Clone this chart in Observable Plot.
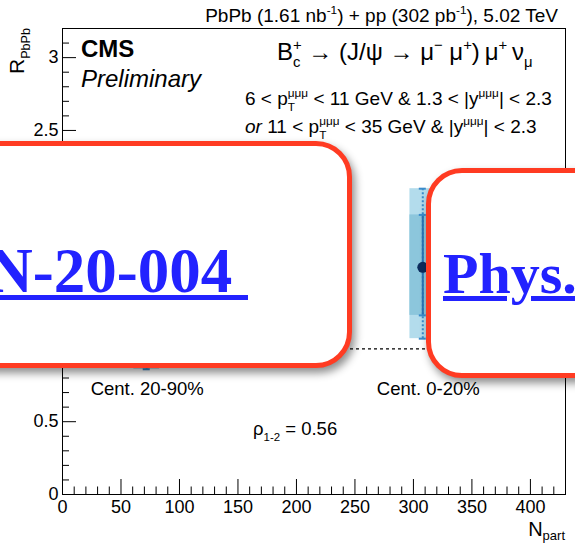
<!DOCTYPE html>
<html>
<head>
<meta charset="utf-8">
<script src="https://cdn.jsdelivr.net/npm/d3@7"></script>
<script src="https://cdn.jsdelivr.net/npm/@observablehq/plot@0.6"></script>
<style>
  html, body { margin: 0; padding: 0; background: #fff; }
  #wrap { position: relative; width: 575px; height: 543px; overflow: hidden; font-family: "Liberation Sans", Arial, sans-serif; }
  #wrap svg { position: absolute; left: 0; top: 0; }
  .callout { position: absolute; box-sizing: border-box; border: 5px solid #ff3b22; border-radius: 36px; background: #fff; box-shadow: 3px 5px 9px rgba(0,0,0,0.45); }
  .callout span { position: absolute; white-space: pre; font-family: "Liberation Serif", "Times New Roman", serif; font-weight: bold; color: #2222ff; text-decoration: underline; text-decoration-thickness: 5px; text-underline-offset: 3px; }
</style>
</head>
<body>
<div id="wrap"></div>
<script>
// Nuclear modification factor of B_c+ in two centrality classes
const centralities = ["Cent. 20-90%", "Cent. 0-20%"];
const nPart = [72, 308];
const rPbPb = [1.40, 1.56];
const innerLow = [1.10, 1.23];
const innerHigh = [1.70, 1.92];
const outerLow = [0.86, 1.07];
const outerHigh = [1.94, 2.10];

const xTicks = [0, 50, 100, 150, 200, 250, 300, 350, 400];
const yTicks = [0, 0.5, 1, 1.5, 2, 2.5, 3];
const correlation = "0.56";
const references = ["CMS-HIN-20-004 ", "Phys. Rev. Lett. 128 (2022) 252301"];

const points = centralities.map((c, i) => ({
  cent: c, npart: nPart[i], r: rPbPb[i],
  inLo: innerLow[i], inHi: innerHigh[i], outLo: outerLow[i], outHi: outerHigh[i]
}));
const caps = points.flatMap(d => [d.outLo, d.outHi, d.inLo, d.inHi].map(v => ({ npart: d.npart, v })));

const W = 575, H = 543, mL = 62, mR = 10, mT = 28, mB = 49;
const innerW = W - mL - mR, innerH = H - mT - mB;
const halfBox = 11, halfCap = 3;

const xMinor = d3.range(0, 431, 10).filter(v => v % 50 !== 0);
const yMinor = d3.range(0, 33, 1).map(v => v / 10).filter(v => Math.round(v * 10) % 5 !== 0);

const chart = Plot.plot({
  width: W, height: H,
  marginLeft: mL, marginRight: mR, marginTop: mT, marginBottom: mB,
  style: { fontFamily: "Liberation Sans, Arial, sans-serif", fontSize: "18px", background: "transparent", color: "#000" },
  x: { type: "linear", domain: [0, 430] },
  y: { type: "linear", domain: [0, 3.2] },
  marks: [
    Plot.ruleY([1], { stroke: "#000", strokeWidth: 1.3, strokeDasharray: "3,3" }),
    Plot.rect(points, { x1: d => d.npart - halfBox, x2: d => d.npart + halfBox, y1: "outLo", y2: "outHi", fill: "#b3dcec" }),
    Plot.rect(points, { x1: d => d.npart - halfBox, x2: d => d.npart + halfBox, y1: "inLo", y2: "inHi", fill: "#8cc6dc" }),
    Plot.ruleX(points, { x: "npart", y1: "outLo", y2: "outHi", stroke: "#3b8ccb", strokeWidth: 2, strokeDasharray: "2,2" }),
    Plot.ruleX(points, { x: "npart", y1: "inLo", y2: "inHi", stroke: "#2c74b5", strokeWidth: 2 }),
    Plot.ruleY(caps, { y: "v", x1: d => d.npart - halfCap, x2: d => d.npart + halfCap, stroke: "#3b8ccb", strokeWidth: 2 }),
    Plot.dot(points, { x: "npart", y: "r", r: 5.5, fill: "#0c2b5c", stroke: "none" }),
    // inward tick marks
    Plot.tickX(xMinor, { x: d => d, insetTop: innerH - 7.5, stroke: "#000" }),
    Plot.tickX(xTicks, { x: d => d, insetTop: innerH - 15, stroke: "#000" }),
    Plot.tickY(yMinor, { y: d => d, insetRight: innerW - 7, stroke: "#000" }),
    Plot.tickY(yTicks, { y: d => d, insetRight: innerW - 14, stroke: "#000" }),
    Plot.axisX(xTicks, { tickSize: 0, tickPadding: 6, fontSize: 18, label: null, tickFormat: d => String(d) }),
    Plot.axisY(yTicks, { tickSize: 0, tickPadding: 4, fontSize: 18, label: null, tickFormat: d => String(d) }),
    Plot.frame({ stroke: "#000" })
  ]
});

const wrap = document.getElementById("wrap");
wrap.appendChild(chart);

const xs = chart.scale("x");
const g = d3.select(chart).append("g").attr("font-family", "Liberation Sans, Arial, sans-serif").attr("fill", "#000");

// text with sub/superscripts
function rich(x, y, parts, size, opts = {}) {
  const t = g.append("text").attr("x", x).attr("y", y).attr("font-size", size)
    .attr("text-anchor", opts.anchor || "start").style("white-space", "pre");
  if (opts.transform) t.attr("transform", opts.transform);
  let shift = 0, prev = null;
  for (const p of parts) {
    const target = p.shift != null ? p.shift : p.sub ? size * 0.3 : p.sup ? -size * 0.42 : 0;
    const ts = t.append("tspan").text(p.t).attr("dy", target - shift);
    shift = target;
    if (p.sub || p.sup) ts.attr("font-size", size * (p.scale || 0.62));
    if (p.italic) ts.attr("font-style", "italic");
    if (p.bold) ts.attr("font-weight", "bold");
    if (p.back && prev) ts.attr("dx", -prev.node().getComputedTextLength());
    prev = ts;
  }
  return t;
}

rich(558, 22, [
  { t: "PbPb (1.61 nb" }, { t: "-1", sup: true }, { t: ") + pp (302 pb" }, { t: "-1", sup: true }, { t: "), 5.02 TeV" }
], 19, { anchor: "end" });

rich(81, 57, [{ t: "CMS", bold: true }], 24);
rich(81, 87, [{ t: "Preliminary", italic: true }], 24);

rich(277, 60, [
  { t: "B" }, { t: "c", sub: true }, { t: "+", sup: true, back: true },
  { t: " \u2192 (J/\u03c8 \u2192 \u03bc" }, { t: "\u2212", sup: true }, { t: " \u03bc" }, { t: "+", sup: true },
  { t: ")\u2009\u03bc" }, { t: "+", sup: true }, { t: "\u2009\u03bd" }, { t: "\u03bc", sub: true }
], 24);

rich(245, 105, [
  { t: "6 < p" }, { t: "T", sub: true }, { t: "\u03bc\u03bc\u03bc", sup: true, back: true },
  { t: " < 11 GeV & 1.3 < |y" }, { t: "\u03bc\u03bc\u03bc", sup: true }, { t: "| < 2.3" }
], 19);
rich(245, 133, [
  { t: "or", italic: true }, { t: " 11 < p" }, { t: "T", sub: true }, { t: "\u03bc\u03bc\u03bc", sup: true, back: true },
  { t: " < 35 GeV & |y" }, { t: "\u03bc\u03bc\u03bc", sup: true }, { t: "| < 2.3" }
], 19);

centralities.forEach((c, i) => {
  rich(xs.apply(nPart[i]) + (i === 1 ? 6 : 1), 395, [{ t: c }], 18.5, { anchor: "middle" });
});

rich(253, 435, [{ t: "\u03c1" }, { t: "1-2", sub: true }, { t: " = " + correlation }], 18.5);

rich(0, 0, [{ t: "R" }, { t: "PbPb", sub: true, scale: 0.6 }], 21, { anchor: "end", transform: `translate(24,${mT}) rotate(-90)` });
rich(W - mR, 536, [{ t: "N" }, { t: "part", sub: true, scale: 0.65, shift: 4 }], 20, { anchor: "end" });

// reference callouts
function callout(left, top, width, height, text, size, pos) {
  const box = document.createElement("div");
  box.className = "callout";
  Object.assign(box.style, { left: left + "px", top: top + "px", width: width + "px", height: height + "px" });
  const s = document.createElement("span");
  s.textContent = text;
  Object.assign(s.style, { fontSize: size + "px", lineHeight: size + "px" }, pos);
  box.appendChild(s);
  wrap.appendChild(box);
}
callout(-60, 140.5, 412, 227, references[0], 63, { right: "99px", top: "94px" });
callout(425.5, 167.5, 300, 210, references[1], 58, { left: "12.5px", top: "72px" });
</script>
</body>
</html>
